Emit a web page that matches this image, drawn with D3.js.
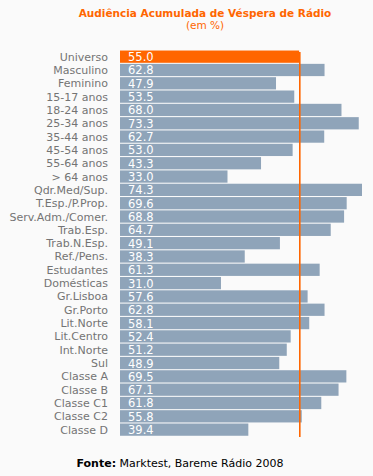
<!DOCTYPE html>
<html><head><meta charset="utf-8">
<script src="https://cdn.jsdelivr.net/npm/d3@7"></script>
<style>body{margin:0;background:#fafafa}svg{display:block}</style>
</head><body>
<script>
const categories = ["Universo","Masculino","Feminino","15-17 anos","18-24 anos","25-34 anos","35-44 anos","45-54 anos","55-64 anos","> 64 anos","Qdr.Med/Sup.","T.Esp./P.Prop.","Serv.Adm./Comer.","Trab.Esp.","Trab.N.Esp.","Ref./Pens.","Estudantes","Domésticas","Gr.Lisboa","Gr.Porto","Lit.Norte","Lit.Centro","Int.Norte","Sul","Classe A","Classe B","Classe C1","Classe C2","Classe D"];
const values = [55.0,62.8,47.9,53.5,68.0,73.3,62.7,53.0,43.3,33.0,74.3,69.6,68.8,64.7,49.1,38.3,61.3,31.0,57.6,62.8,58.1,52.4,51.2,48.9,69.5,67.1,61.8,55.8,39.4];
const reference = 55.0;
const title = "Audiência Acumulada de Véspera de Rádio";
const subtitle = "(em %)";

const W = 373, H = 476;
const svg = d3.select("body").append("svg").attr("width", W).attr("height", H);
svg.append("rect").attr("width", W).attr("height", H).attr("fill", "#fafafa");

const x = d3.scaleLinear().domain([0, 74.3]).range([120, 362]);
const y = d3.scaleBand().domain(categories).range([50, 436.3]).paddingInner(0.08).paddingOuter(0.04);

const font = "'DejaVu Sans', Verdana, sans-serif";

svg.append("text").attr("x", 205).attr("y", 17).attr("text-anchor", "middle")
  .attr("font-family", font).attr("font-size", 10.5).attr("font-weight", "bold")
  .attr("fill", "#ff6600").text(title);
svg.append("text").attr("x", 205).attr("y", 29).attr("text-anchor", "middle")
  .attr("font-family", font).attr("font-size", 10.5).attr("fill", "#ff6600").text(subtitle);

const rows = categories.map((c, i) => ({c, v: values[i], i}));

svg.selectAll("rect.bar").data(rows).enter().append("rect").attr("class", "bar")
  .attr("x", x(0)).attr("y", d => y(d.c)).attr("height", y.bandwidth())
  .attr("width", d => x(d.v) - x(0))
  .attr("fill", d => d.i === 0 ? "#ff6600" : "#8fa4b9");

svg.selectAll("text.lab").data(rows).enter().append("text").attr("class", "lab")
  .attr("x", 108).attr("y", d => y(d.c) + y.bandwidth() / 2 + 4)
  .attr("text-anchor", "end").attr("font-family", font).attr("font-size", 11)
  .attr("fill", "#747474").text(d => d.c);

svg.selectAll("text.val").data(rows).enter().append("text").attr("class", "val")
  .attr("x", 128).attr("y", d => y(d.c) + y.bandwidth() / 2 + 4.5)
  .attr("font-family", font).attr("font-size", 11.5)
  .attr("fill", "#ffffff").text(d => d.v.toFixed(1));

svg.append("rect").attr("x", Math.round(x(reference)))
  .attr("y", 52).attr("width", 1.6).attr("height", 385).attr("fill", "#ff6600");

const f = svg.append("text").attr("x", 180).attr("y", 467).attr("text-anchor", "middle")
  .attr("font-family", font).attr("font-size", 11).attr("fill", "#000");
f.append("tspan").attr("font-weight", "bold").text("Fonte:");
f.append("tspan").text(" Marktest, Bareme Rádio 2008");
</script>
</body></html>
